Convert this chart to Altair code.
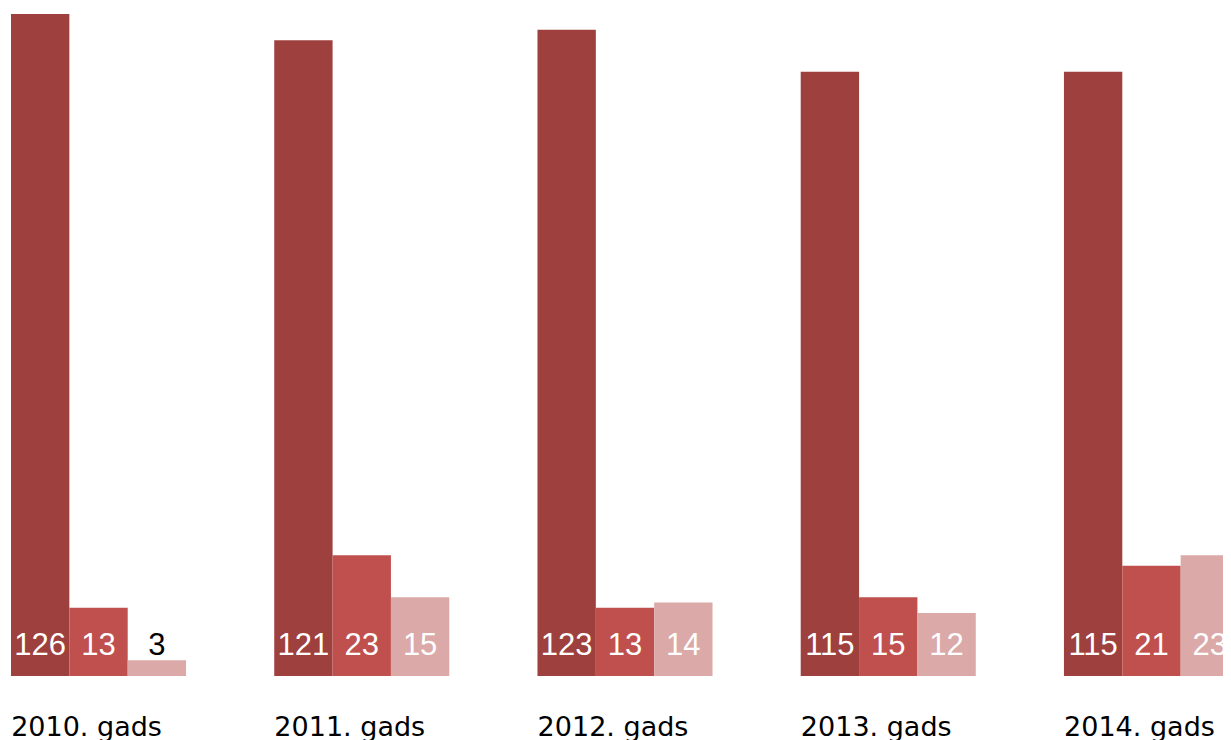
import altair as alt
import pandas as pd

years = ["2010. gads", "2011. gads", "2012. gads", "2013. gads", "2014. gads"]
series_names = ["A", "B", "C"]
series_a = [126, 121, 123, 115, 115]
series_b = [13, 23, 13, 15, 21]
series_c = [3, 15, 14, 12, 23]

rows = []
for i, y in enumerate(years):
    for s, vals in zip(series_names, [series_a, series_b, series_c]):
        rows.append({"year": y, "series": s, "value": vals[i]})
df = pd.DataFrame(rows)
df_years = pd.DataFrame({"year": years})

colors = ["#9E403D", "#C0504D", "#DAA9A8"]

x_scale = alt.Scale(paddingInner=0.335, paddingOuter=0, range=[0, 1228])
x_enc = alt.X("year:N", sort=years, scale=x_scale, axis=None)
xoff = alt.XOffset("series:N", sort=series_names, scale=alt.Scale(paddingInner=0, paddingOuter=0))
y_zero = alt.Y(datum=0, axis=None)

base = alt.Chart(df)

bars = base.mark_bar(clip=True).encode(
    x=x_enc,
    xOffset=xoff,
    y=alt.Y("value:Q", scale=alt.Scale(domain=[0, 126], nice=False, zero=True), axis=None),
    color=alt.Color("series:N", sort=series_names, scale=alt.Scale(domain=series_names, range=colors), legend=None),
)

labels = base.mark_text(
    font="Liberation Sans", fontSize=31, baseline="alphabetic", align="center", dy=-21, clip=True
).encode(
    x=alt.X("year:N", sort=years, axis=None),
    xOffset=xoff,
    y=y_zero,
    text="value:Q",
    color=alt.condition(alt.datum.value < 5, alt.value("#000000"), alt.value("#FFFFFF")),
)

year_labels = alt.Chart(df_years).mark_text(
    font="DejaVu Sans", fontSize=27, baseline="alphabetic", align="center", dx=-12, dy=60, color="#000000"
).encode(
    x=alt.X("year:N", sort=years, axis=None),
    y=y_zero,
    text="year:N",
)

chart = (
    alt.layer(bars, labels, year_labels)
    .properties(
        width=1212,
        height=662,
        padding={"left": 3, "top": 6, "right": 0, "bottom": 0},
        background="white",
    )
    .configure_view(stroke=None, strokeWidth=0)
)

chart.save("out.html", embed_options={"renderer": "svg", "actions": False})
